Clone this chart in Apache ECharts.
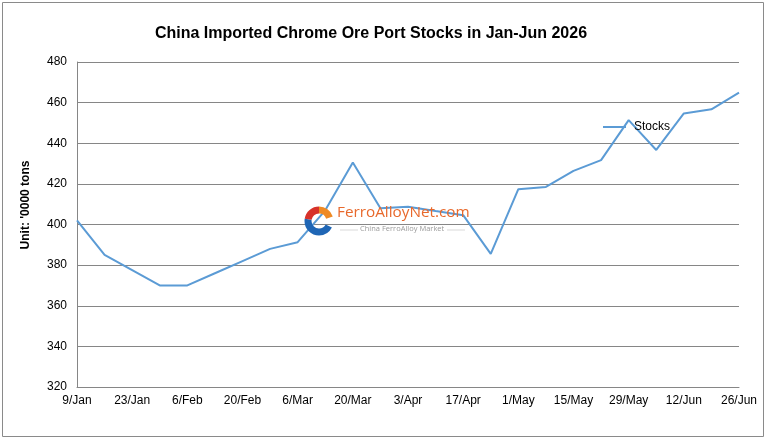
<!DOCTYPE html>
<html>
<head>
<meta charset="utf-8">
<script src="https://cdn.jsdelivr.net/npm/echarts@6/dist/echarts.min.js"></script>
<style>
html,body{margin:0;padding:0;background:#fff;}
#chart{width:768px;height:443px;}
</style>
</head>
<body>
<div id="chart"></div>
<script>
const categories = ['9/Jan','16/Jan','23/Jan','30/Jan','6/Feb','13/Feb','20/Feb','27/Feb','6/Mar','13/Mar','20/Mar','27/Mar','3/Apr','10/Apr','17/Apr','24/Apr','1/May','8/May','15/May','22/May','29/May','5/Jun','12/Jun','19/Jun','26/Jun'];
const stocks = [402, 385, 377.5, 370, 370, 376, 382, 388, 391.3, 407, 430.5, 408, 408.7, 406.6, 404.6, 385.5, 417.4, 418.5, 426.4, 431.7, 451.4, 436.7, 454.7, 456.7, 464.9];
const titleText = 'China Imported Chrome Ore Port Stocks in Jan-Jun 2026';
const yAxisName = "Unit: '0000 tons";
const seriesName = 'Stocks';

const chart = echarts.init(document.getElementById('chart'));
const font = 'Arial, "Liberation Sans", sans-serif';
chart.setOption({
  animation: false,
  backgroundColor: '#fff',
  title: {
    text: titleText,
    left: 366, top: 21, textAlign: 'center',
    textStyle: {fontFamily: font, fontSize: 16, fontWeight: 'bold', color: '#000'}
  },
  legend: {
    data: [{name: seriesName, icon: 'rect'}],
    left: 598, top: 116,
    itemWidth: 23, itemHeight: 2, itemGap: 4,
    textStyle: {fontFamily: font, fontSize: 12, color: '#000', padding: [0, 0, 0, 3]}
  },
  grid: {left: 77, right: 29, top: 62, bottom: 56, containLabel: false},
  xAxis: {
    type: 'category',
    data: categories,
    boundaryGap: false,
    axisLine: {lineStyle: {color: '#868686', width: 1}},
    axisTick: {show: false},
    axisLabel: {interval: 1, color: '#000', fontFamily: font, fontSize: 12, margin: 8},
    splitLine: {show: false}
  },
  yAxis: {
    type: 'value',
    min: 320, max: 480, interval: 20,
    axisLine: {show: true, lineStyle: {color: '#868686', width: 1}},
    axisTick: {show: false},
    axisLabel: {color: '#000', fontFamily: font, fontSize: 12, margin: 10},
    splitLine: {lineStyle: {color: '#868686', width: 1}}
  },
  series: [{
    name: seriesName,
    type: 'line',
    data: stocks,
    symbol: 'none',
    lineStyle: {color: '#5B9BD5', width: 2},
    itemStyle: {color: '#5B9BD5'}
  }],
  graphic: [
    {type: 'rect', shape: {x: 2.5, y: 2.5, width: 761, height: 434}, style: {fill: 'none', stroke: '#8a8a8a', lineWidth: 1}, silent: true, z: -1},
    {type: 'text', x: 26, y: 205, rotation: Math.PI/2, style: {text: yAxisName, fill: '#000', fontFamily: font, fontSize: 12, fontWeight: 'bold', align: 'center', verticalAlign: 'middle'}, z: 10},
    {type: 'arc', shape: {cx: 319, cy: 221, r: 11, startAngle: Math.PI*0.5, endAngle: Math.PI*1.05}, style: {fill: 'none', stroke: '#1f66b5', lineWidth: 7}, z: 10},
    {type: 'arc', shape: {cx: 319, cy: 221, r: 11, startAngle: Math.PI*1.05, endAngle: Math.PI*1.5}, style: {fill: 'none', stroke: '#d7322a', lineWidth: 7}, z: 10},
    {type: 'arc', shape: {cx: 319, cy: 221, r: 11, startAngle: Math.PI*1.5, endAngle: Math.PI*1.9}, style: {fill: 'none', stroke: '#ef8a24', lineWidth: 7}, z: 10},
    {type: 'arc', shape: {cx: 319, cy: 221, r: 11, startAngle: Math.PI*0.15, endAngle: Math.PI*0.5}, style: {fill: 'none', stroke: '#1f66b5', lineWidth: 7}, z: 10},
    {type: 'text', left: 337, top: 205, style: {text: 'FerroAlloyNet.com', fill: '#e8692c', fontFamily: '"Open Sans", sans-serif', fontSize: 15.3}, z: 10},
    {type: 'text', left: 360, top: 225, style: {text: 'China FerroAlloy Market', fill: '#9a9a9a', fontFamily: '"Open Sans", sans-serif', fontSize: 7.5}, z: 10},
    {type: 'line', shape: {x1: 340, y1: 230, x2: 358, y2: 230}, style: {stroke: '#c8c8c8', lineWidth: 0.7}, z: 10},
    {type: 'line', shape: {x1: 447, y1: 230, x2: 465, y2: 230}, style: {stroke: '#c8c8c8', lineWidth: 0.7}, z: 10}
  ]
});
</script>
</body>
</html>
